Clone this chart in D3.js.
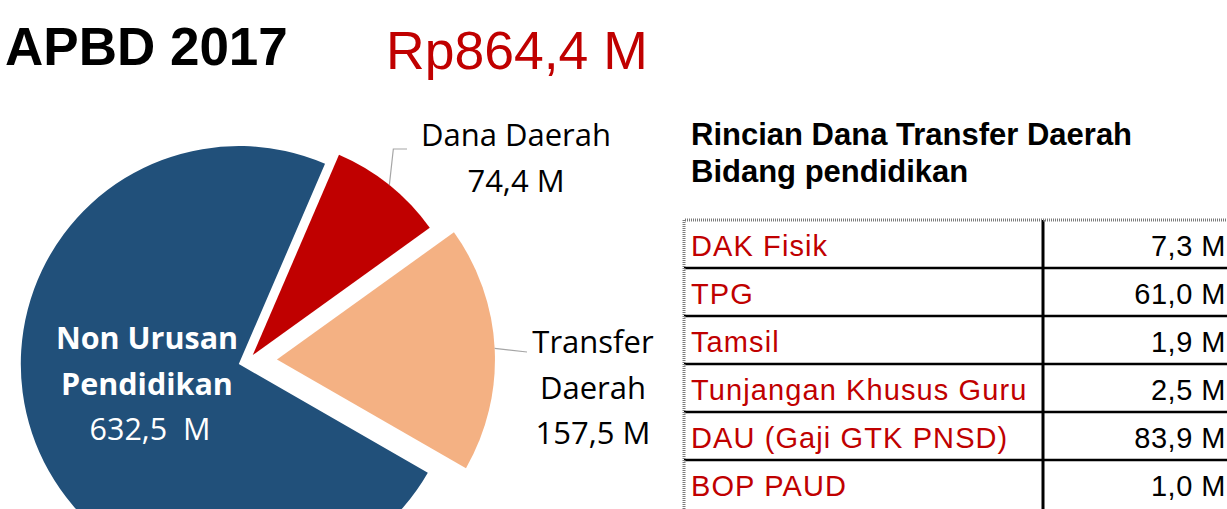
<!DOCTYPE html>
<html>
<head>
<meta charset="utf-8">
<script src="https://d3js.org/d3.v7.min.js"></script>
<style>
  body { margin: 0; background: #fff; }
  svg { display: block; overflow: hidden; }
</style>
</head>
<body>
<div id="chart"></div>
<script>
    // pie data (order = clockwise from the red slice)
    const sliceNames = ["Dana Daerah", "Transfer Daerah", "Non Urusan Pendidikan"];
    const sliceValues = [74.4, 157.5, 632.5];
    const sliceLines = [["Dana Daerah"], ["Transfer", "Daerah"], ["Non Urusan", "Pendidikan"]];

    // table data
    const tableItems = ["DAK Fisik", "TPG", "Tamsil", "Tunjangan Khusus Guru", "DAU (Gaji GTK PNSD)", "BOP PAUD"];
    const tableValues = [7.3, 61.0, 1.9, 2.5, 83.9, 1.0];

    const W = 1227, H = 509;
    const colors = ["#C00000", "#F4B183", "#21507A"];
    const explode = [7.6, 29, 9.7];
    const cx = 248, cy = 361, R = 218;
    const startAngle = 23.3 * Math.PI / 180;

    const idr = d3.formatLocale({ decimal: ",", thousands: ".", grouping: [3], currency: ["Rp", ""] });
    const fmt = v => idr.format(".1f")(v);

    const svg = d3.select("#chart").append("svg")
        .attr("width", W)
        .attr("height", H);

    // titles
    svg.append("text")
        .attr("x", 5).attr("y", 65)
        .style("font", "bold 53px 'Liberation Sans', Arial, sans-serif")
        .attr("fill", "#000")
        .text("APBD 2017");

    svg.append("text")
        .attr("x", 386).attr("y", 69)
        .style("font", "53.5px 'Liberation Sans', Arial, sans-serif")
        .attr("fill", "#C00000")
        .text("Rp" + fmt(d3.sum(sliceValues)) + " M");

    // pie
    const pie = d3.pie().sort(null).value(d => d)
        .startAngle(startAngle).endAngle(startAngle + 2 * Math.PI);
    const arc = d3.arc().innerRadius(0).outerRadius(R);
    const arcs = pie(sliceValues);

    arcs.forEach((d, i) => {
        const mid = (d.startAngle + d.endAngle) / 2;
        d.mid = mid;
        d.ox = cx + Math.sin(mid) * explode[i];
        d.oy = cy - Math.cos(mid) * explode[i];
    });

    const g = svg.append("g");
    g.selectAll("path.slice")
        .data(arcs)
        .enter().append("path")
        .attr("class", "slice")
        .attr("transform", d => "translate(" + d.ox + "," + d.oy + ")")
        .attr("d", arc)
        .attr("fill", (d, i) => colors[i]);

    // leader lines
    const edge = d => [d.ox + Math.sin(d.mid) * R, d.oy - Math.cos(d.mid) * R];
    const p0 = edge(arcs[0]);
    svg.append("path")
        .attr("d", d3.line()([p0, [p0[0] + 4, 149], [407, 149]]))
        .attr("fill", "none").attr("stroke", "#A6A6A6").attr("stroke-width", 1.2);
    const p1 = edge(arcs[1]);
    svg.append("path")
        .attr("d", d3.line()([p1, [527, 352]]))
        .attr("fill", "none").attr("stroke", "#A6A6A6").attr("stroke-width", 1.2);

    // slice labels
    const labelFont = "'Open Sans', 'Noto Sans', sans-serif";
    const labelPos = [[516, 146], [593, 353], [147, 349]];
    const labelSize = ["31px", "31px", "30.5px"];
    arcs.forEach((d, i) => {
        const t = svg.append("text")
            .attr("text-anchor", "middle")
            .attr("fill", i === 2 ? "#fff" : "#000")
            .style("font-family", labelFont)
            .style("font-size", labelSize[i]);
        const lines = sliceLines[i].concat([fmt(sliceValues[i]) + (i === 2 ? "\u00a0\u00a0M" : " M")]);
        lines.forEach((ln, j) => {
            t.append("tspan")
                .attr("x", labelPos[i][0] + (i === 2 && j === lines.length - 1 ? 3 : 0))
                .attr("y", labelPos[i][1] + j * 45.5)
                .style("font-weight", i === 2 && j < lines.length - 1 ? "bold" : "normal")
                .text(ln);
        });
    });

    // table heading
    const head = svg.append("text")
        .style("font", "bold 31px 'Liberation Sans', Arial, sans-serif")
        .attr("fill", "#000");
    head.append("tspan").attr("x", 691).attr("y", 145).text("Rincian Dana Transfer Daerah");
    head.append("tspan").attr("x", 691).attr("y", 182).text("Bidang pendidikan");

    // table
    const tx0 = 684, tx1 = 1043, tx2 = 1240;
    const y = d3.scaleBand().domain(tableItems).range([220, 220 + 48 * tableItems.length]);
    const tg = svg.append("g");

    tg.selectAll("line.row")
        .data(tableItems.slice(1))
        .enter().append("line")
        .attr("x1", tx0).attr("x2", tx2)
        .attr("y1", d => y(d)).attr("y2", d => y(d))
        .attr("stroke", "#000").attr("stroke-width", 2.5);

    tg.append("line")
        .attr("x1", tx1).attr("x2", tx1)
        .attr("y1", 220).attr("y2", H)
        .attr("stroke", "#000").attr("stroke-width", 3);

    // hatched outer border
    tg.append("path")
        .attr("d", d3.line()([[tx0, H], [tx0, 220], [tx2, 220]]))
        .attr("fill", "none").attr("stroke", "#7a7a7a")
        .attr("stroke-width", 3).attr("stroke-dasharray", "1 1");

    const cellFont = "29px 'Liberation Sans', Arial, sans-serif";
    tg.selectAll("text.item")
        .data(tableItems)
        .enter().append("text")
        .attr("class", "item")
        .attr("x", 691)
        .attr("y", d => y(d) + 36)
        .style("font", cellFont)
        .style("letter-spacing", "1.1px")
        .attr("fill", "#C00000")
        .text(d => d);

    tg.selectAll("text.val")
        .data(tableValues)
        .enter().append("text")
        .attr("class", "val")
        .attr("x", 1226)
        .attr("y", (d, i) => y(tableItems[i]) + 36)
        .attr("text-anchor", "end")
        .style("font", cellFont)
        .style("letter-spacing", "0.5px")
        .attr("fill", "#000")
        .text(d => fmt(d) + " M");
</script>
</body>
</html>
